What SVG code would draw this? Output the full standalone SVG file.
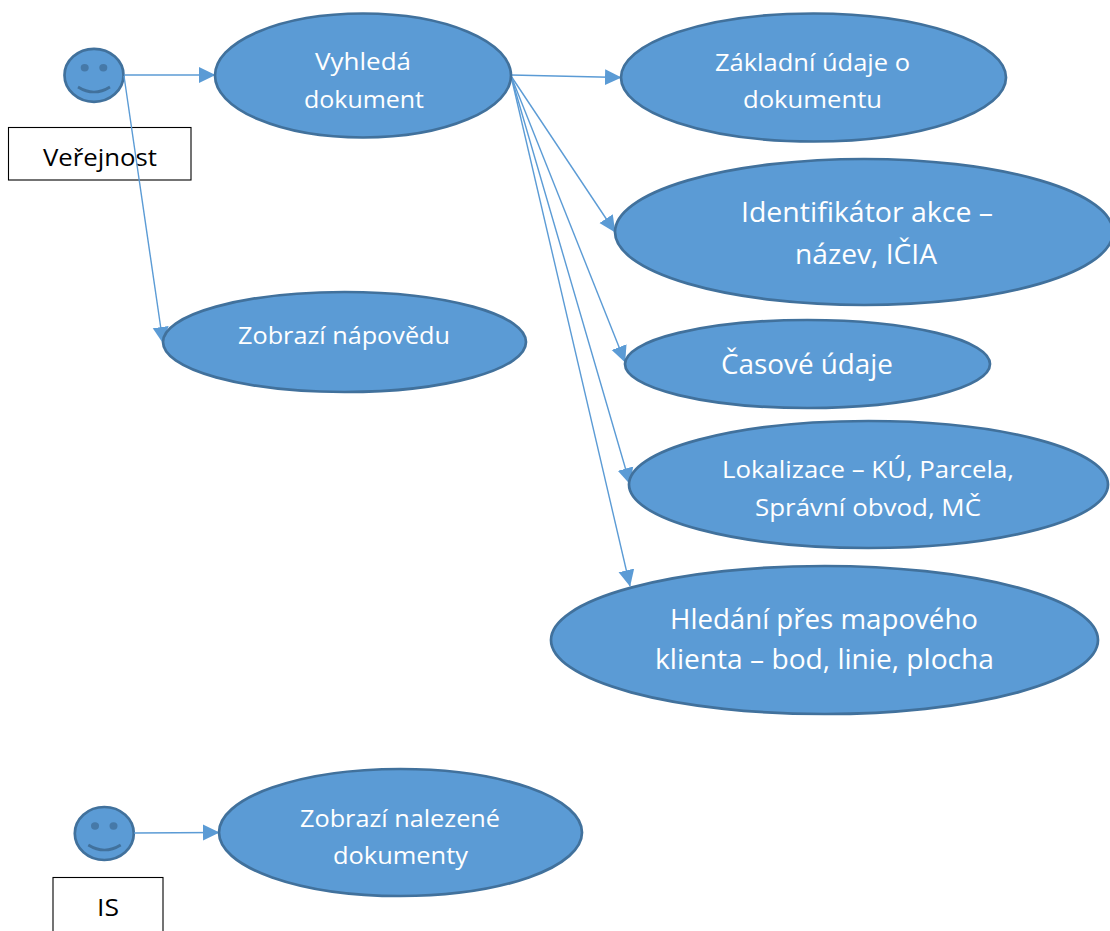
<svg xmlns="http://www.w3.org/2000/svg" width="1110" height="931" viewBox="0 0 1110 931">
<style>
.e{fill:#5b9bd5;stroke:#41719c;stroke-width:2.7}
.f{fill:#41719c;fill-opacity:.8}
.m{fill:none;stroke:#41719c;stroke-width:2.7}
.b{fill:#fff;stroke:#000;stroke-width:1.1}
.c{fill:none;stroke:#5b9bd5;stroke-width:1.4;marker-end:url(#a)}
text{font-family:"Open Sans","Noto Sans","Liberation Sans",sans-serif;text-anchor:start;font-size:24px}
.l{font-size:26.500px}
.w{fill:#fff}
.k{fill:#000}
</style>
<defs>
<marker id="a" markerUnits="userSpaceOnUse" markerWidth="17" markerHeight="17" refX="16" refY="8.500" orient="auto" viewBox="0 0 17 17"><path d="M0 0.500L16.500 8.500L0 16.500Z" fill="#5b9bd5"/></marker>
</defs>
<g id="actor-verejnost">
<ellipse class="e" cx="94" cy="75.300" rx="29.500" ry="26.500"/>
<ellipse class="f" cx="84.700" cy="67.700" rx="4" ry="3.700"/>
<ellipse class="f" cx="103.300" cy="67.700" rx="4" ry="3.700"/>
<path class="m" d="M78 87Q94 97 110 87"/>
<rect class="b" x="8.500" y="127.500" width="182.500" height="52.500"/>
<text class="k" x="43" y="166" textLength="114" lengthAdjust="spacingAndGlyphs">Veřejnost</text>
</g>
<g id="actor-is">
<ellipse class="e" cx="104.300" cy="833.500" rx="29.500" ry="26.500"/>
<ellipse class="f" cx="95" cy="826" rx="4" ry="3.700"/>
<ellipse class="f" cx="113.500" cy="826" rx="4" ry="3.700"/>
<path class="m" d="M88.300 845Q104.500 855 120.700 845"/>
<rect class="b" x="53" y="877.500" width="110" height="60"/>
<text class="k" x="97" y="916" textLength="22" lengthAdjust="spacingAndGlyphs">IS</text>
</g>
<g id="connectors">
<path class="c" d="M124 75H215"/>
<path class="c" d="M124 76L163 343"/>
<path class="c" d="M511 75L621 77.500"/>
<path class="c" d="M511 76L615 232"/>
<path class="c" d="M511 76L625 362"/>
<path class="c" d="M511 76L630 484"/>
<path class="c" d="M511 76L630 586"/>
<path class="c" d="M134 833L219 832.500"/>
</g>
<g id="vyhleda">
<ellipse class="e" cx="363" cy="75.500" rx="148" ry="62"/>
<text class="w" x="315" y="70" textLength="96" lengthAdjust="spacingAndGlyphs">Vyhledá</text>
<text class="w" x="304" y="108" textLength="120" lengthAdjust="spacingAndGlyphs">dokument</text>
</g>
<g id="zakladni">
<ellipse class="e" cx="813.500" cy="77.500" rx="192.500" ry="64"/>
<text class="w" x="715" y="71" textLength="195" lengthAdjust="spacingAndGlyphs">Základní údaje o</text>
<text class="w" x="743" y="108" textLength="139" lengthAdjust="spacingAndGlyphs">dokumentu</text>
</g>
<g id="identifikator">
<ellipse class="e" cx="864" cy="232" rx="249" ry="73"/>
<text class="w l" x="741" y="222" textLength="252" lengthAdjust="spacingAndGlyphs">Identifikátor akce –</text>
<text class="w l" x="795" y="264" textLength="142" lengthAdjust="spacingAndGlyphs">název, IČIA</text>
</g>
<g id="napoveda">
<ellipse class="e" cx="344.500" cy="342" rx="181.500" ry="50"/>
<text class="w" x="238" y="344" textLength="212" lengthAdjust="spacingAndGlyphs">Zobrazí nápovědu</text>
</g>
<g id="casove">
<ellipse class="e" cx="807.500" cy="364" rx="182.500" ry="44"/>
<text class="w l" x="721" y="374" textLength="172" lengthAdjust="spacingAndGlyphs">Časové údaje</text>
</g>
<g id="lokalizace">
<ellipse class="e" cx="868.500" cy="484.500" rx="239.500" ry="63.500"/>
<text class="w" x="722" y="478" textLength="292" lengthAdjust="spacingAndGlyphs">Lokalizace – KÚ, Parcela,</text>
<text class="w" x="755" y="516" textLength="226" lengthAdjust="spacingAndGlyphs">Správní obvod, MČ</text>
</g>
<g id="hledani">
<ellipse class="e" cx="824.500" cy="640" rx="273.500" ry="74"/>
<text class="w l" x="670" y="629" textLength="308" lengthAdjust="spacingAndGlyphs">Hledání přes mapového</text>
<text class="w l" x="655" y="669" textLength="339" lengthAdjust="spacingAndGlyphs">klienta – bod, linie, plocha</text>
</g>
<g id="nalezene">
<ellipse class="e" cx="400.500" cy="832.500" rx="181.500" ry="63.500"/>
<text class="w" x="300" y="827" textLength="200" lengthAdjust="spacingAndGlyphs">Zobrazí nalezené</text>
<text class="w" x="333" y="864" textLength="135" lengthAdjust="spacingAndGlyphs">dokumenty</text>
</g>
</svg>
